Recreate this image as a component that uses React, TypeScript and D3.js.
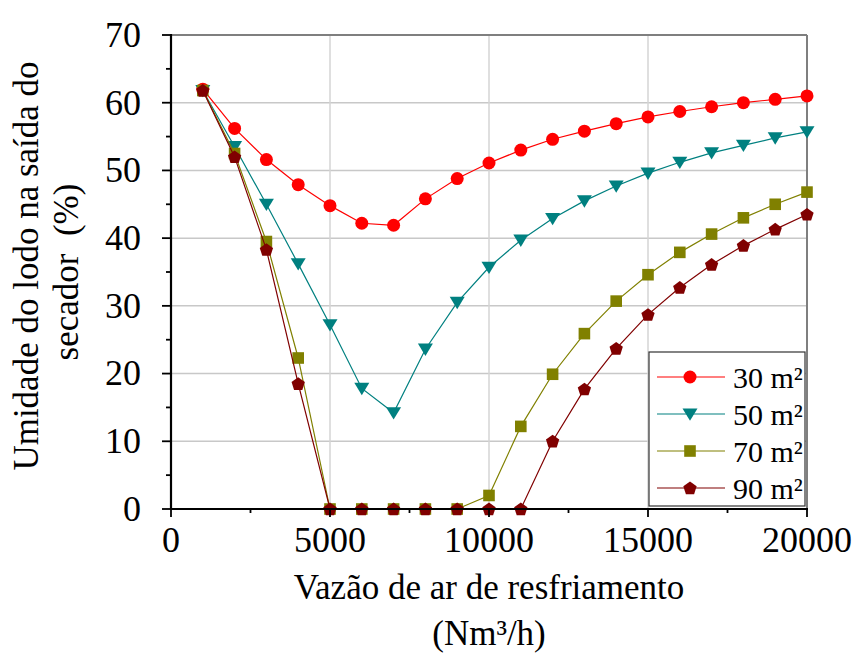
import React from "react";
import * as d3 from "d3";

const xValues = [1000, 2000, 3000, 4000, 5000, 6000, 7000, 8000, 9000, 10000, 11000, 12000, 13000, 14000, 15000, 16000, 17000, 18000, 19000, 20000];
const s30 = [62.0, 56.2, 51.6, 47.9, 44.8, 42.2, 41.9, 45.8, 48.8, 51.1, 53.0, 54.6, 55.8, 56.9, 57.9, 58.7, 59.4, 60.0, 60.5, 61.0];
const s50 = [61.8, 53.5, 45.0, 36.2, 27.2, 17.8, 14.2, 23.6, 30.5, 35.7, 39.7, 42.9, 45.5, 47.7, 49.6, 51.2, 52.6, 53.7, 54.8, 55.7];
const s70 = [61.8, 52.5, 39.5, 22.3, 0, 0, 0, 0, 0, 2.0, 12.2, 19.9, 25.9, 30.7, 34.6, 37.9, 40.6, 43.0, 45.0, 46.8];
const s90 = [61.8, 52.0, 38.3, 18.5, 0, 0, 0, 0, 0, 0, 0, 10.0, 17.7, 23.7, 28.7, 32.7, 36.1, 38.9, 41.3, 43.5];
const seriesNames = ["30 m²", "50 m²", "70 m²", "90 m²"];
const seriesColors = ["#ff0000", "#008080", "#808000", "#800000"];
const seriesShapes = ["circle", "triangleDown", "square", "pentagon"];
const xTicks = [0, 5000, 10000, 15000, 20000];
const yTicks = [0, 10, 20, 30, 40, 50, 60, 70];

const W = 861, H = 668;
const L = 171, R = 807, T = 35, B = 509;
const FONT = "Liberation Serif, Times New Roman, serif";
const ts = { fontFamily: FONT };

function Marker({ shape, x, y, color }: { shape: string; x: number; y: number; color: string }) {
  if (shape === "circle") return <circle cx={x} cy={y} r={6.5} fill={color} />;
  if (shape === "square") return <rect x={x - 5.8} y={y - 5.8} width={11.6} height={11.6} fill={color} />;
  if (shape === "triangleDown") {
    const s = 7.5;
    return <path d={`M${x - s},${y - s * 0.75}L${x + s},${y - s * 0.75}L${x},${y + s * 0.9}Z`} fill={color} />;
  }
  const r = 7;
  const pts = d3.range(5).map(i => {
    const a = -Math.PI / 2 + (i * 2 * Math.PI) / 5;
    return [x + r * Math.cos(a), y + 0.5 + r * Math.sin(a)];
  });
  return <path d={"M" + pts.map(p => p.join(",")).join("L") + "Z"} fill={color} />;
}

export default function App() {
  const x = d3.scaleLinear().domain([0, 20000]).range([L, R]);
  const y = d3.scaleLinear().domain([0, 70]).range([B, T]);
  const series = [s30, s50, s70, s90];
  const line = d3.line<number>().x((_, i) => x(xValues[i])).y(d => y(d));
  const xMinor = d3.range(0, 20001, 2500);
  const yMinor = d3.range(0, 71, 5);
  const legendRows = [377, 414, 451, 488];

  return (
    <svg width={W} height={H} style={{ position: "absolute", left: 0, top: 0, background: "#fff" }}>
      <rect width={W} height={H} fill="#fff" />
      {yTicks.filter(t => t > 0 && t < 70).map(t => (
        <line key={"gy" + t} x1={L} x2={R} y1={y(t)} y2={y(t)} stroke="#c8c8c8" strokeWidth={1.5} />
      ))}
      {xTicks.filter(t => t > 0 && t < 20000).map(t => (
        <line key={"gx" + t} x1={x(t)} x2={x(t)} y1={T} y2={B} stroke="#d4d4d4" strokeWidth={1.5} />
      ))}
      <line x1={L} x2={R} y1={T} y2={T} stroke="#7f7f7f" strokeWidth={2} />
      <line x1={R} x2={R} y1={T} y2={B} stroke="#7f7f7f" strokeWidth={2} />
      {series.map((s, k) => (
        <g key={"s" + k}>
          <path d={line(s) || ""} fill="none" stroke={seriesColors[k]} strokeWidth={1.2} />
          {s.map((v, i) => (
            <Marker key={i} shape={seriesShapes[k]} x={x(xValues[i])} y={y(v)} color={seriesColors[k]} />
          ))}
        </g>
      ))}
      <line x1={L} x2={L} y1={T - 1} y2={B + 1} stroke="#000" strokeWidth={2.2} />
      <line x1={L - 1} x2={R + 1} y1={B} y2={B} stroke="#000" strokeWidth={2.2} />
      {yMinor.map(t => (
        <line key={"yt" + t} x1={t % 10 === 0 ? L - 9 : L - 5} x2={L} y1={y(t)} y2={y(t)} stroke="#000" strokeWidth={1.8} />
      ))}
      {xMinor.map(t => (
        <line key={"xt" + t} x1={x(t)} x2={x(t)} y1={B} y2={t % 5000 === 0 ? B + 8 : B + 4} stroke="#000" strokeWidth={1.8} />
      ))}
      {yTicks.map(t => (
        <text key={"yl" + t} x={141} y={y(t)} dy="0.33em" textAnchor="end" fontSize={36} fill="#000" style={ts}>{t}</text>
      ))}
      {xTicks.map(t => (
        <text key={"xl" + t} x={x(t)} y={552} textAnchor="middle" fontSize={36} fill="#000" style={ts}>{t}</text>
      ))}
      <text x={489} y={599} textAnchor="middle" fontSize={35} fill="#000" style={ts}>Vazão de ar de resfriamento</text>
      <text x={489} y={645} textAnchor="middle" fontSize={35} fill="#000" style={ts}>(Nm³/h)</text>
      <text transform="translate(38,266) rotate(-90)" textAnchor="middle" fontSize={35} fill="#000" style={ts}>Umidade do lodo na saída do</text>
      <text transform="translate(78,272) rotate(-90)" textAnchor="middle" fontSize={35} fill="#000" style={{ ...ts, whiteSpace: "pre" }}>secador  (%)</text>
      <rect x={649} y={352} width={156} height={154} fill="#fff" stroke="#333" strokeWidth={1.2} />
      {seriesNames.map((n, k) => (
        <g key={"lg" + k}>
          <line x1={657} x2={725} y1={legendRows[k]} y2={legendRows[k]} stroke={seriesColors[k]} strokeWidth={1.2} />
          <Marker shape={seriesShapes[k]} x={690} y={legendRows[k]} color={seriesColors[k]} />
          <text x={733} y={legendRows[k]} dy="0.35em" fontSize={30} fill="#000" style={ts}>{n}</text>
        </g>
      ))}
    </svg>
  );
}
